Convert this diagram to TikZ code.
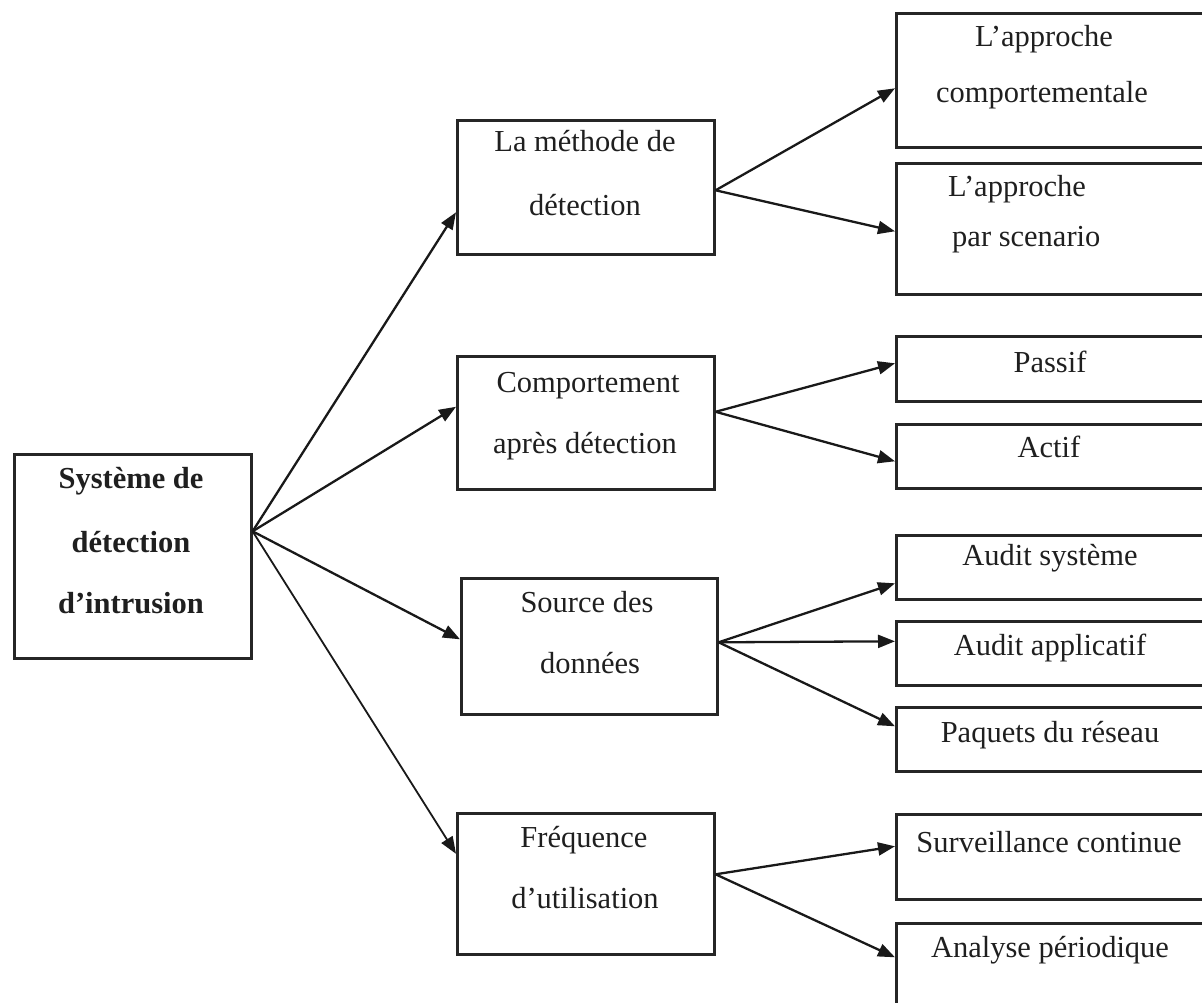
\documentclass[tikz,border=0pt]{standalone}
\usepackage{fontspec}
\setmainfont{Liberation Serif}
\usetikzlibrary{arrows.meta}
\begin{document}
\begin{tikzpicture}[x=1pt,y=-1pt,
  box/.style={draw=black!85, line width=2.6pt, rectangle, anchor=north west, inner sep=0pt},
  txt/.style={anchor=base, inner sep=0pt, text=black!88, font=\fontsize{30.5}{36}\selectfont},
  ltxt/.style={txt, anchor=base west},
  btxt/.style={txt, font=\fontsize{30.5}{36}\selectfont\bfseries},
  link/.style={draw=black!90, line width=2.3pt, -{Triangle[length=17pt,width=13pt]}}]
\useasboundingbox (0,0) rectangle (1202,1003);
\clip (0,0) rectangle (1202,1003);

% root
\node[box, minimum width=237pt, minimum height=204pt] (root) at (13,453) {};
\node[btxt] (rootA) at (131,488) {Système de};
\node[btxt] (rootB) at (131,552) {détection};
\node[btxt] (rootC) at (131,613) {d’intrusion};

% criteria
\node[box, minimum width=257pt, minimum height=134pt] (m1) at (456,119) {};
\node[txt] (m1a) at (585,152) {La méthode de};
\node[txt] (m1b) at (585,215) {détection};

\node[box, minimum width=257pt, minimum height=133pt] (m2) at (456,355) {};
\node[txt] (m2a) at (588,392) {Comportement};
\node[txt] (m2b) at (585,453) {après détection};

\node[box, minimum width=256pt, minimum height=136pt] (m3) at (460,577) {};
\node[txt] (m3a) at (587,612) {Source des};
\node[txt] (m3b) at (590,673) {données};

\node[box, minimum width=257pt, minimum height=141pt] (m4) at (456,812) {};
\node[txt] (m4a) at (584,847) {Fréquence};
\node[txt] (m4b) at (585,908) {d’utilisation};

% categories
\node[box, minimum width=320pt, minimum height=134pt] (r1) at (895,12) {};
\node[txt] (r1a) at (1044,47) {L’approche};
\node[txt] (r1b) at (1042,103) {comportementale};

\node[box, minimum width=320pt, minimum height=131pt] (r2) at (895,162) {};
\node[ltxt] (r2a) at (948,197) {L’approche};
\node[ltxt] (r2b) at (952,247) {par scenario};

\node[box, minimum width=320pt, minimum height=65pt] (r3) at (895,335) {};
\node[txt] (r3a) at (1050,372) {Passif};

\node[box, minimum width=320pt, minimum height=64pt] (r4) at (895,423) {};
\node[txt] (r4a) at (1049,457) {Actif};

\node[box, minimum width=320pt, minimum height=64pt] (r5) at (895,534) {};
\node[txt] (r5a) at (1050,565) {Audit système};

\node[box, minimum width=320pt, minimum height=64pt] (r6) at (895,620) {};
\node[txt] (r6a) at (1050,655) {Audit applicatif};

\node[box, minimum width=320pt, minimum height=64pt] (r7) at (895,706) {};
\node[txt] (r7a) at (1050,742) {Paquets du réseau};

\node[box, minimum width=320pt, minimum height=85pt] (r8) at (895,813) {};
\node[txt] (r8a) at (1049,852) {Surveillance continue};

\node[box, minimum width=320pt, minimum height=90pt] (r9) at (895,922) {};
\node[txt] (r9a) at (1050,957) {Analyse périodique};

% connectors from the root
\coordinate (hub) at ([yshift=25pt]root.east);
\draw[link] (hub) -- ([yshift=-25pt]m1.west);
\draw[link] (hub) -- ([yshift=16pt]m2.west);
\draw[link] (hub) -- ([yshift=7pt]m3.west);
\draw[link, line width=1.8pt] (hub) -- ([yshift=30pt]m4.west);

% connectors to the categories
\coordinate (o1) at ([yshift=-3pt]m1.east);
\draw[link] (o1) -- ([yshift=-8pt]r1.west);
\draw[link] (o1) -- ([yshift=-2.5pt]r2.west);

\coordinate (o2) at ([yshift=11pt]m2.east);
\draw[link] (o2) -- ([yshift=5.5pt]r3.west);
\draw[link] (o2) -- ([yshift=-5pt]r4.west);

\coordinate (o3) at ([yshift=4pt]m3.east);
\draw[link] (o3) -- ([yshift=-16pt]r5.west);
\draw[link] (o3) -- ([yshift=12pt]r6.west);
\draw[link] (o3) -- ([yshift=13pt]r7.west);

\coordinate (o4) at ([yshift=9.5pt]m4.east);
\draw[link] (o4) -- ([yshift=10.5pt]r8.west);
\draw[link] (o4) -- ([yshift=11pt]r9.west);
\end{tikzpicture}
\end{document}
